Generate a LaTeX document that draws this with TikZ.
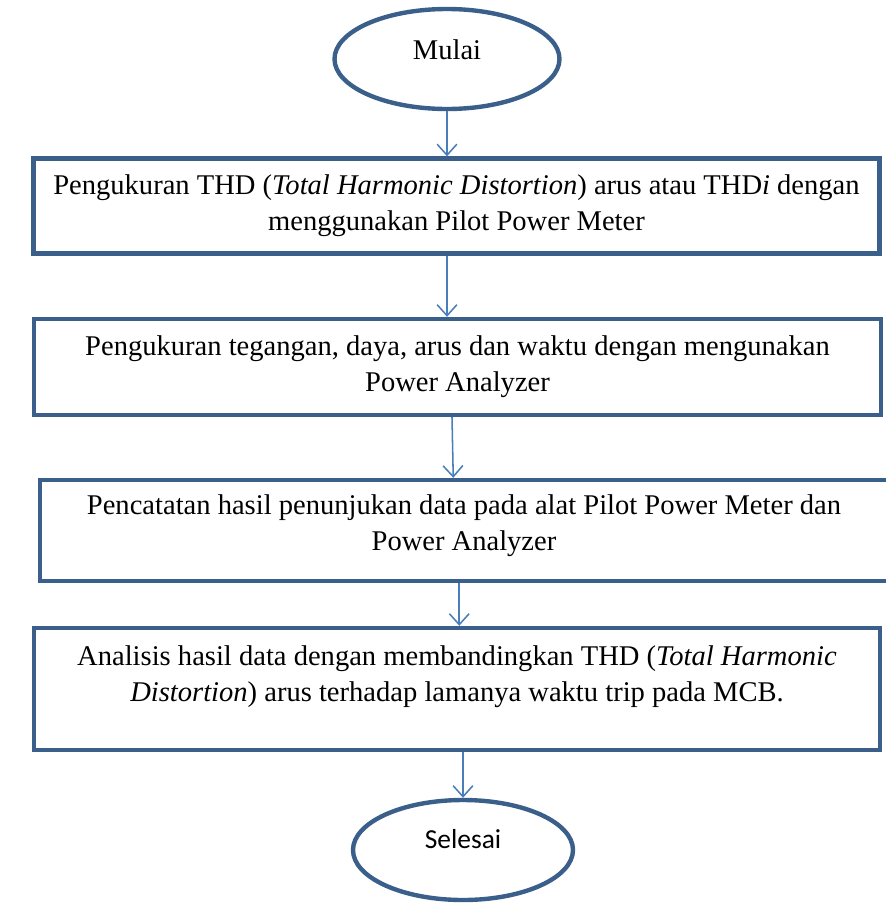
\documentclass[tikz,border=0pt]{standalone}
\usepackage{fontspec}
\setmainfont{Liberation Serif}
\newfontfamily\calibrifont{Carlito}
\usepackage{tikz}
\usetikzlibrary{shapes.geometric,arrows.meta,positioning,calc}
\definecolor{boxblue}{HTML}{3A5F8B}
\definecolor{lineblue}{HTML}{4A7EBB}

\begin{document}
\begin{tikzpicture}[
    terminal/.style={ellipse, draw=boxblue, line width=2pt, fill=white,
        minimum width=3.6cm, minimum height=1.6cm, inner sep=0pt,
        font=\fontsize{13}{16}\selectfont},
    process/.style={rectangle, draw=boxblue, line width=2pt, fill=white,
        inner sep=0pt, align=center, font=\fontsize{13}{16.3}\selectfont},
    flow/.style={-{Straight Barb[length=5pt,width=9pt]}, lineblue, line width=0.7pt}
]
    % Page frame
    \useasboundingbox (0,0) rectangle (14.16,-14.496);

    % Start and end
    \node[terminal, text depth=0.3cm] (start) at (7.152,-0.944) {Mulai};
    \node[terminal, minimum width=3.52cm, text depth=0.35cm, font=\calibrifont\fontsize{12.5}{16}\selectfont] (finish) at (7.408,-13.6) {Selesai};

    % Process steps
    \node[process, minimum width=13.536cm, minimum height=1.52cm] (measthd) at (7.304,-3.296)
        {Pengukuran THD (\textit{Total Harmonic Distortion}) arus atau THD\textit{i} dengan\\
         menggunakan Pilot Power Meter};
    \node[process, minimum width=13.552cm, minimum height=1.536cm] (measpwr) at (7.32,-5.872)
        {Pengukuran tegangan, daya, arus dan waktu dengan mengunakan\\
         Power Analyzer};
    \node[process, minimum width=13.568cm, minimum height=1.616cm, text depth=0.25cm] (record) at (7.424,-8.488)
        {Pencatatan hasil penunjukan data pada alat Pilot Power Meter dan\\
         Power Analyzer};
    \node[process, minimum width=13.536cm, minimum height=1.952cm, text depth=0.5cm] (analyse) at (7.312,-11.024)
        {Analisis hasil data dengan membandingkan THD (\textit{Total Harmonic}\\
         \textit{Distortion}) arus terhadap lamanya waktu trip pada MCB.};

    % Connectors
    \draw[flow] (start.south) -- (start.south |- measthd.north);
    \draw[flow] (start.south |- measthd.south) -- (start.south |- measpwr.north);
    \draw[flow] ([xshift=0.08cm]start.south |- measpwr.south) -- ([xshift=0.1cm]start.south |- record.north);
    \draw[flow] ([xshift=-0.06cm]finish.north |- record.south) -- ([xshift=-0.06cm]finish.north |- analyse.north);
    \draw[flow] (finish.north |- analyse.south) -- (finish.north);
\end{tikzpicture}
\end{document}
